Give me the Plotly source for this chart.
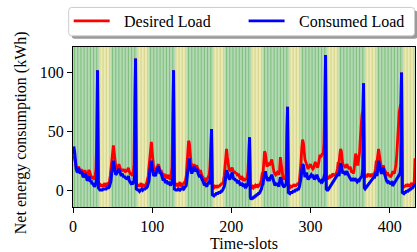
import plotly.graph_objects as go

# ---------------- data ----------------
time_slots = list(range(433))

desired_load = [
    26, 29, 27, 22, 20, 19, 19, 20, 18, 16, 17, 17, 15, 14, 15, 17, 15, 13, 12, 14, 17, 16, 13, 11,
    10, 12, 9, 10, 12, 18, 45, 102, 8, 5, 3, 4, 3, 5, 3, 4, 6, 3, 4, 5, 4, 6, 7, 12,
    18, 27, 35, 38, 32, 23, 20, 19, 18, 20, 22, 20, 18, 16, 17, 18, 16, 18, 15, 17, 16, 18, 19, 16,
    14, 13, 15, 12, 14, 22, 75, 112, 6, 4, 3, 5, 3, 4, 6, 3, 5, 4, 3, 5, 4, 6, 8, 12,
    20, 30, 38, 41, 33, 24, 18, 17, 16, 18, 20, 21, 22, 19, 16, 17, 15, 13, 12, 14, 11, 12, 13, 10,
    11, 13, 10, 9, 12, 20, 60, 102, 7, 5, 4, 6, 3, 5, 4, 7, 3, 5, 4, 6, 5, 7, 8, 12,
    22, 35, 42, 40, 30, 24, 20, 18, 20, 22, 20, 19, 21, 20, 18, 16, 15, 17, 14, 12, 11, 10, 8, 9,
    8, 9, 10, 11, 13, 20, 35, 52, 4, 3, 2, 3, 2, 4, 3, 2, 4, 3, 5, 4, 6, 5, 8, 12,
    20, 33, 35, 28, 22, 18, 17, 16, 18, 19, 17, 15, 16, 14, 15, 13, 12, 14, 11, 10, 9, 12, 10, 8,
    9, 8, 10, 9, 11, 16, 30, 45, 3, 2, 2, 3, 2, 3, 2, 4, 3, 3, 5, 4, 5, 6, 9, 14,
    14, 25, 33, 31, 24, 20, 21, 22, 21, 22, 24, 26, 22, 18, 15, 14, 13, 14, 15, 14, 13, 17, 28, 22,
    15, 12, 9, 10, 9, 14, 50, 71, 4, 3, 2, 3, 2, 4, 3, 5, 4, 3, 5, 4, 6, 5, 8, 14,
    24, 36, 43, 40, 30, 26, 24, 22, 19, 18, 20, 21, 22, 20, 19, 18, 19, 21, 24, 22, 20, 19, 22, 27,
    30, 28, 29, 31, 30, 40, 75, 115, 12, 10, 9, 12, 10, 13, 11, 12, 14, 13, 12, 14, 13, 15, 18, 24,
    22, 30, 35, 33, 24, 20, 21, 20, 19, 21, 22, 20, 19, 18, 20, 17, 15, 16, 14, 17, 24, 31, 28, 22,
    22, 28, 32, 45, 60, 64, 68, 91, 10, 12, 13, 11, 12, 14, 12, 13, 11, 14, 12, 13, 12, 14, 18, 24,
    24, 32, 35, 30, 24, 21, 19, 20, 21, 18, 17, 15, 14, 15, 13, 12, 13, 11, 12, 14, 16, 15, 14, 18,
    22, 30, 42, 58, 66, 70, 74, 100, 4, 3, 2, 4, 3, 5, 3, 4, 3, 5, 4, 5, 4, 6, 5, 7,
    27,
]

consumed_load = [
    30, 37, 33, 23, 18, 16, 15, 19, 16, 14, 15, 16, 13, 11, 12, 14, 13, 10, 8, 9, 12, 10, 7, 8,
    5, 6, 4, 3, 4, 6, 12, 102, 2, 0, 0, 0, 0, 0, 1, 1, 1, 1, 1, 2, 2, 2, 3, 5,
    8, 15, 22, 25, 20, 14, 13, 14, 15, 17, 18, 16, 13, 12, 14, 13, 11, 12, 10, 11, 9, 10, 12, 8,
    7, 6, 7, 5, 6, 8, 15, 112, 1, 0, 0, 0, -1, 0, 0, 1, 0, 1, 1, 1, 2, 2, 3, 5,
    8, 16, 23, 25, 19, 14, 12, 13, 12, 14, 17, 19, 20, 16, 14, 15, 12, 9, 8, 10, 7, 6, 8, 6,
    5, 7, 5, 4, 5, 7, 12, 102, 1, 0, 0, 0, 0, 1, 0, 0, 1, 1, 1, 2, 1, 2, 3, 4,
    10, 18, 24, 27, 20, 15, 14, 16, 19, 20, 17, 16, 18, 17, 14, 12, 11, 13, 10, 9, 8, 6, 4, 5,
    4, 3, 5, 6, 5, 8, 15, 52, -4, -5, -5, -4, -4, -3, -3, -3, -2, -2, -2, -1, -1, 0, 1, 3,
    6, 12, 17, 15, 12, 10, 9, 11, 14, 15, 12, 9, 10, 8, 9, 7, 6, 8, 6, 5, 4, 6, 5, 3,
    4, 3, 4, 3, 4, 6, 12, 45, -6, -8, -7, -7, -6, -6, -5, -5, -4, -4, -3, -3, -2, -1, 1, 4,
    5, 10, 15, 16, 12, 9, 8, 9, 8, 10, 12, 13, 11, 8, 5, 4, 5, 4, 6, 5, 3, 7, 11, 9,
    5, 4, 3, 3, 4, 5, 10, 71, -2, -3, -3, -2, -2, -2, -1, -1, -1, 0, 0, 0, 1, 1, 3, 6,
    10, 17, 22, 21, 14, 11, 13, 15, 11, 9, 10, 11, 12, 13, 12, 13, 11, 9, 10, 12, 13, 11, 9, 8,
    8, 7, 8, 7, 8, 10, 14, 115, 1, 0, 0, 1, 2, 3, 4, 5, 6, 8, 9, 10, 10, 11, 12, 14,
    12, 18, 23, 20, 15, 14, 16, 14, 13, 15, 16, 14, 12, 11, 10, 9, 8, 10, 9, 8, 10, 9, 8, 7,
    8, 7, 9, 10, 11, 12, 18, 91, 2, 1, 2, 3, 4, 5, 6, 7, 8, 9, 10, 10, 11, 11, 13, 16,
    12, 20, 25, 22, 16, 15, 14, 17, 19, 15, 12, 10, 8, 7, 8, 6, 7, 5, 6, 5, 6, 5, 6, 7,
    8, 9, 10, 11, 12, 14, 20, 100, -2, -3, -3, -2, -2, -1, -1, -1, 0, 0, 1, 1, 2, 2, 3, 4,
    5,
]

series_names = ["Desired Load", "Consumed Load"]
series_colors = ["#ff0000", "#0000ff"]

# off-peak (yellow) periods, in time-slots
offpeak_start = [32.8, 80.8, 128.8, 176.8, 224.8, 272.8, 320.8, 368.8, 416.8]
offpeak_end = [47.3, 95.3, 143.3, 191.3, 239.3, 287.3, 335.3, 383.3, 431.3]
# slot-group boundaries drawn as thin lines
group_edges = list(range(2, 432, 4))

x_ticks = [0, 100, 200, 300, 400]
y_ticks = [0, 50, 100]

# ---------------- layout geometry ----------------
W, H = 417, 252
L, R, T, B = 73.3, 415.5, 46.7, 207.3
FONT = "Liberation Serif, Times New Roman, serif"

GREEN = "#b3d9b3"
GREEN_LINE = "#7dbe7d"
YELLOW = "#ebebb3"
YELLOW_LINE = "#d2d28a"


def px_x(p):
    return (p - L) / (R - L)


def px_y(p):
    return (B - p) / (B - T)


def in_offpeak(x):
    return any(s <= x <= e for s, e in zip(offpeak_start, offpeak_end))


shapes = []
for s, e in zip(offpeak_start, offpeak_end):
    shapes.append(dict(type="rect", xref="x", yref="paper", x0=s, x1=e, y0=0, y1=1,
                       fillcolor=YELLOW, line=dict(width=0), layer="below"))
for g in group_edges:
    shapes.append(dict(type="line", xref="x", yref="paper", x0=g, x1=g, y0=0, y1=1,
                       line=dict(color=YELLOW_LINE if in_offpeak(g) else GREEN_LINE, width=1),
                       layer="below"))


def rounded_rect(x0, y0, x1, y1, r):
    def P(px, py):
        return f"{px_x(px):.5f},{px_y(py):.5f}"
    return (f"M {P(x0 + r, y0)} L {P(x1 - r, y0)} Q {P(x1, y0)} {P(x1, y0 + r)} "
            f"L {P(x1, y1 - r)} Q {P(x1, y1)} {P(x1 - r, y1)} "
            f"L {P(x0 + r, y1)} Q {P(x0, y1)} {P(x0, y1 - r)} "
            f"L {P(x0, y0 + r)} Q {P(x0, y0)} {P(x0 + r, y0)} Z")


# legend frame + shadow (drawn manually so it can span the full axes width)
shapes.append(dict(type="path", xref="paper", yref="paper",
                   path=rounded_rect(72, 10, 418, 38.5, 3),
                   fillcolor="#9a9a9a", line=dict(width=0), layer="above"))
shapes.append(dict(type="path", xref="paper", yref="paper",
                   path=rounded_rect(69, 7, 415, 35.5, 3),
                   fillcolor="white", line=dict(color="#cccccc", width=1), layer="above"))

annotations = []
legend_items = [(74, 110, 122), (249, 285, 297)]
for (lx0, lx1, tx), name, col in zip(legend_items, series_names, series_colors):
    shapes.append(dict(type="line", xref="paper", yref="paper",
                       x0=px_x(lx0), x1=px_x(lx1), y0=px_y(20.5), y1=px_y(20.5),
                       line=dict(color=col, width=2.8), layer="above"))
    annotations.append(dict(xref="paper", yref="paper", x=px_x(tx), y=px_y(21.5),
                            xanchor="left", yanchor="middle", showarrow=False, text=name,
                            font=dict(family=FONT, size=16, color="black")))

# y-axis title placed as in the reference
annotations.append(dict(xref="paper", yref="paper", x=px_x(21.5), y=px_y(133),
                        xanchor="center", yanchor="middle", showarrow=False, textangle=-90,
                        text="Net energy consumption (kWh)",
                        font=dict(family=FONT, size=16, color="black")))

fig = go.Figure()
fig.add_trace(go.Scatter(x=time_slots, y=desired_load, mode="lines", name=series_names[0],
                         line=dict(color=series_colors[0], width=2.8)))
fig.add_trace(go.Scatter(x=time_slots, y=consumed_load, mode="lines", name=series_names[1],
                         line=dict(color=series_colors[1], width=3.0)))

fig.update_layout(
    width=W, height=H,
    margin=dict(l=L, r=W - R, t=T, b=H - B, pad=0, autoexpand=False),
    paper_bgcolor="white",
    plot_bgcolor=GREEN,
    font=dict(family=FONT, size=16, color="black"),
    shapes=shapes,
    annotations=annotations,
    showlegend=False,
    xaxis=dict(range=[0, 432], tickmode="array", tickvals=x_ticks,
               ticks="outside", ticklen=5, tickwidth=1, tickcolor="black",
               showline=True, linecolor="black", linewidth=1, mirror=True,
               showgrid=False, zeroline=False, automargin=False,
               tickfont=dict(family=FONT, size=16),
               title=dict(text="Time-slots", font=dict(family=FONT, size=16), standoff=6)),
    yaxis=dict(range=[-14.4, 121.8], tickmode="array", tickvals=y_ticks,
               ticks="outside", ticklen=5, tickwidth=1, tickcolor="black",
               showline=True, linecolor="black", linewidth=1, mirror=True,
               showgrid=False, zeroline=False, automargin=False,
               tickfont=dict(family=FONT, size=16)),
)

fig.write_html("out.html", config={"displayModeBar": False},
               post_script="document.body.style.margin='0px';document.body.style.padding='0px';")
